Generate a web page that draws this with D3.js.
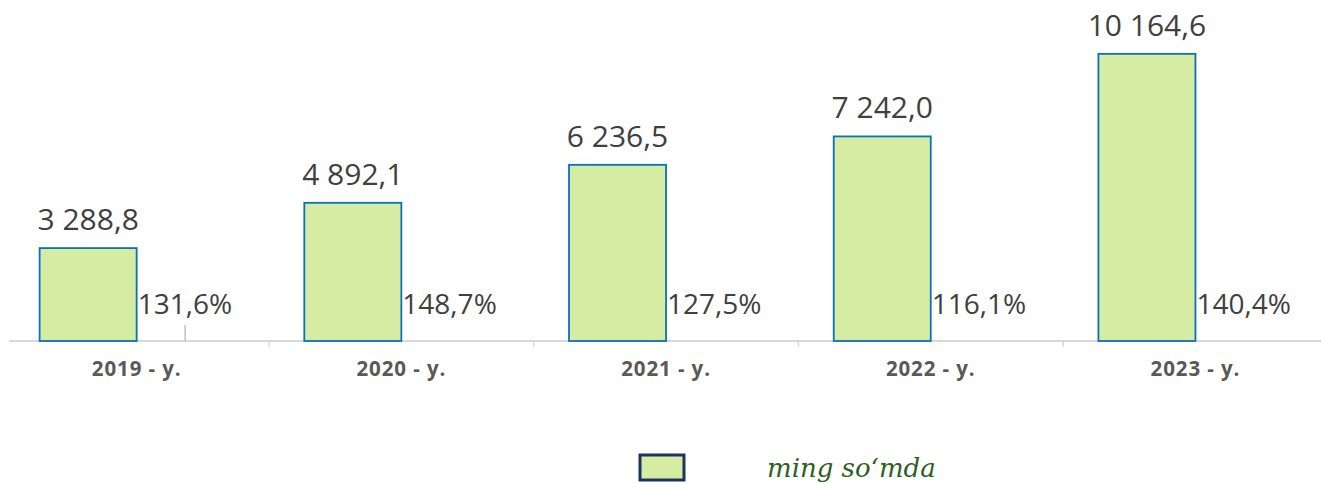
<!DOCTYPE html>
<html>
<head>
<meta charset="utf-8">
<script src="https://cdn.jsdelivr.net/npm/d3@7"></script>
<style>
  body { margin: 0; background: #fff; }
  svg { display: block; }
</style>
</head>
<body>
<script>
// data
var years = ["2019 - y.", "2020 - y.", "2021 - y.", "2022 - y.", "2023 - y."];
var values = [3288.8, 4892.1, 6236.5, 7242.0, 10164.6];
var valueLabels = ["3 288,8", "4 892,1", "6 236,5", "7 242,0", "10 164,6"];
var growthLabels = ["131,6%", "148,7%", "127,5%", "116,1%", "140,4%"];
var legendLabel = "ming so\u2018mda";

var W = 1321, H = 484;
var baseY = 341;

var svg = d3.select("body").append("svg")
    .attr("width", W)
    .attr("height", H);

// category bands, each band holds the value bar and an empty slot for growth
var x = d3.scaleBand().domain(years).range([4.3, 1327.8]).padding(0);
var x1 = d3.scaleBand().domain(["value", "growth"]).range([0, x.bandwidth()])
    .paddingInner(0).paddingOuter(0.364);
var y = d3.scaleLinear().domain([0, 12000]).range([baseY, 2]);

// axis line + ticks between categories
svg.append("line")
    .attr("x1", 9).attr("x2", W)
    .attr("y1", baseY).attr("y2", baseY)
    .style("stroke", "#d9d9d9").style("stroke-width", 2);

years.slice(1).forEach(function(d) {
    svg.append("line")
        .attr("x1", x(d)).attr("x2", x(d))
        .attr("y1", baseY).attr("y2", baseY + 6)
        .style("stroke", "#d9d9d9").style("stroke-width", 1.5);
});

// small leftover tick in the first growth slot
svg.append("line")
    .attr("x1", x(years[0]) + x1("growth") + x1.bandwidth() / 2)
    .attr("x2", x(years[0]) + x1("growth") + x1.bandwidth() / 2)
    .attr("y1", baseY - 16).attr("y2", baseY)
    .style("stroke", "#bfbfbf").style("stroke-width", 1.5);

// bars
years.forEach(function(d, i) {
    var bx = x(d) + x1("value");
    svg.append("rect")
        .attr("x", bx)
        .attr("y", y(values[i]))
        .attr("width", x1.bandwidth())
        .attr("height", baseY - y(values[i]))
        .style("fill", "#d5eca2")
        .style("stroke", "#0a70c0")
        .style("stroke-width", 1.8);

    svg.append("text")
        .attr("x", bx + x1.bandwidth() / 2)
        .attr("y", y(values[i]) - 18)
        .attr("text-anchor", "middle")
        .style("font-family", "'Open Sans', sans-serif")
        .style("font-size", "30px")
        .style("fill", "#404040")
        .text(valueLabels[i]);

    svg.append("text")
        .attr("x", x(d) + x1("growth") + 1)
        .attr("y", 314)
        .attr("text-anchor", "start")
        .style("font-family", "'Open Sans', sans-serif")
        .style("font-size", "28px")
        .style("fill", "#404040")
        .text(growthLabels[i]);

    svg.append("text")
        .attr("x", x(d) + x.bandwidth() / 2)
        .attr("y", 376)
        .attr("text-anchor", "middle")
        .style("font-family", "'Open Sans', sans-serif")
        .style("font-weight", "bold")
        .style("font-size", "20.5px")
        .style("letter-spacing", "0.9px")
        .style("fill", "#595959")
        .text(d);
});

// legend
svg.append("rect")
    .attr("x", 640).attr("y", 455)
    .attr("width", 44).attr("height", 25)
    .style("fill", "#d5eca2")
    .style("stroke", "#1f3264")
    .style("stroke-width", 3);

svg.append("text")
    .attr("x", 767).attr("y", 477)
    .style("font-family", "'DejaVu Serif', serif")
    .style("font-style", "italic")
    .style("font-size", "26px")
    .style("fill", "#2f5f1f")
    .text(legendLabel);
</script>
</body>
</html>
